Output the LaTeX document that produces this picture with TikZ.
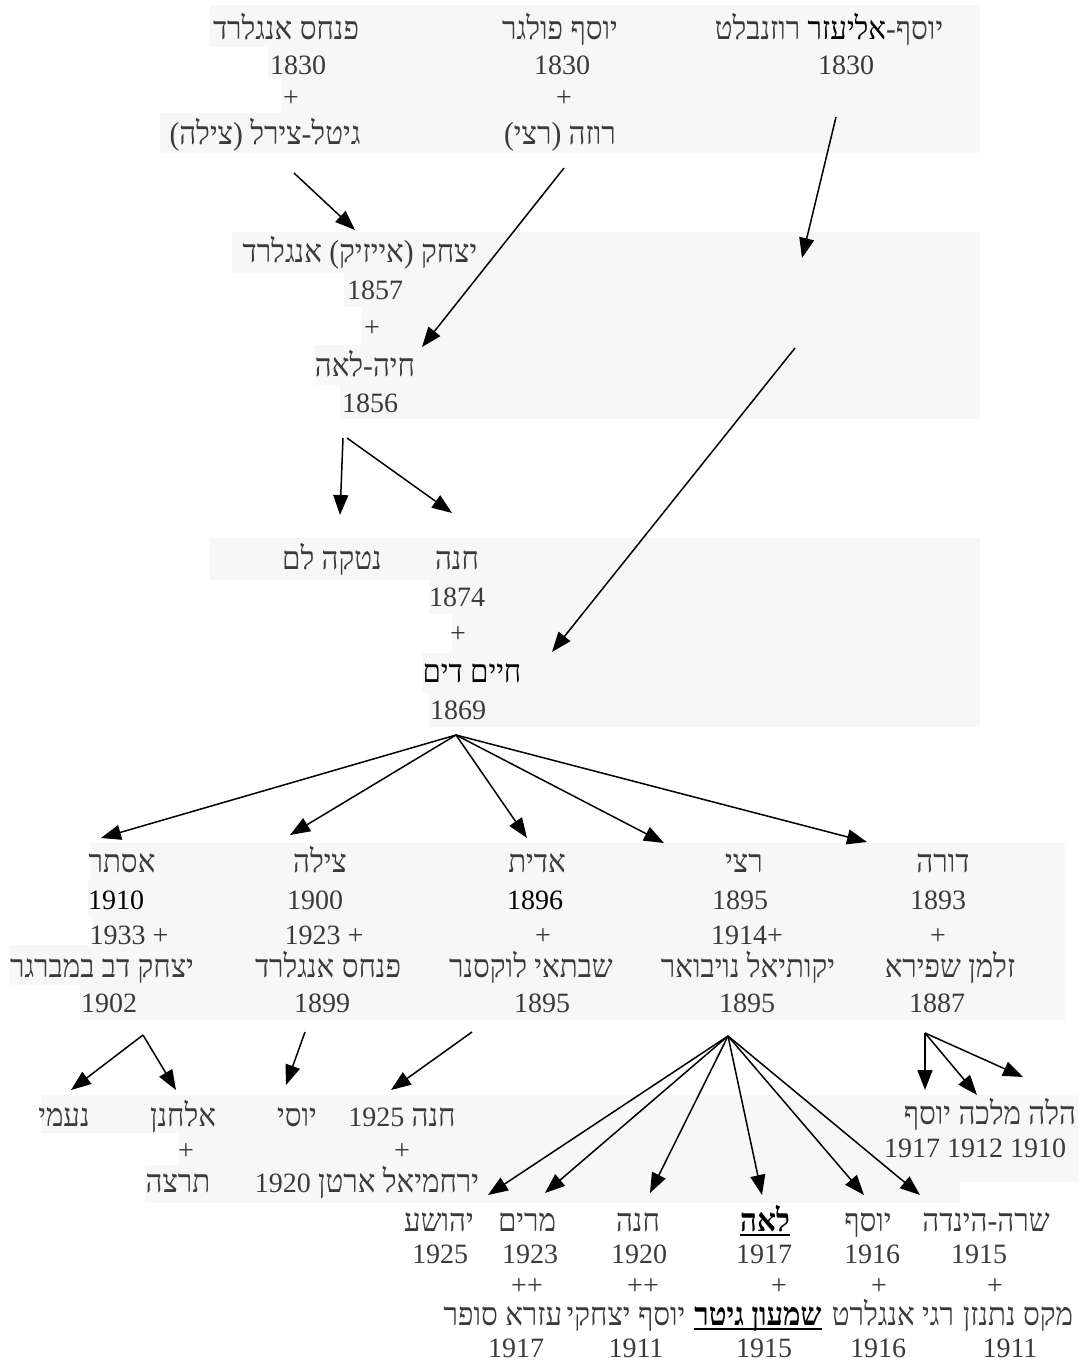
\documentclass[tikz,border=0pt]{standalone}
\usepackage{fontspec}
\setmainfont{Liberation Serif}
\newfontfamily\heb[Script=Hebrew,FakeStretch=0.92]{Liberation Serif}
\newfontfamily\lat{Liberation Serif}
\TeXXeTstate=1
\usetikzlibrary{arrows.meta}
\definecolor{txtgray}{RGB}{58,58,58}
\definecolor{bggray}{RGB}{247,247,247}
\newcommand{\hebsz}{\heb\fontsize{32}{38}\selectfont}
\newcommand{\heR}[1]{{\hebsz\beginR #1\endR}}
\newcommand{\yr}[1]{{\lat\fontsize{28}{34}\selectfont #1}}
\tikzset{
  lbl/.style={anchor=center, inner sep=0pt, text height=16pt, text depth=0pt, text=txtgray, font=\lat\fontsize{28}{34}\selectfont},
  dark/.style={text=black},
  boldlbl/.style={text=black, font=\lat\bfseries\fontsize{28}{34}\selectfont},
  arr/.style={draw=black, line width=1.5pt, -{Triangle[length=20pt,width=15pt]}},
  bgbox/.style={fill=bggray, draw=none},
  ul/.style={draw=black, line width=2pt}
}
\begin{document}
\begin{tikzpicture}[x=1pt,y=-1pt]
\useasboundingbox (0,0) rectangle (1080,1366);
\fill[white] (0,0) rectangle (1080,1366);
% background highlights
\fill[bgbox] (210,5) rectangle (980,47);
\fill[bgbox] (268,47) rectangle (980,79);
\fill[bgbox] (282,79) rectangle (980,113);
\fill[bgbox] (160,113) rectangle (980,153);
\fill[bgbox] (232,232) rectangle (980,273);
\fill[bgbox] (344,273) rectangle (980,307);
\fill[bgbox] (362,307) rectangle (980,345);
\fill[bgbox] (315,345) rectangle (980,385);
\fill[bgbox] (340,385) rectangle (980,419);
\fill[bgbox] (210,538) rectangle (980,580);
\fill[bgbox] (429,580) rectangle (980,614);
\fill[bgbox] (452,614) rectangle (980,653);
\fill[bgbox] (422,653) rectangle (980,693);
\fill[bgbox] (429,693) rectangle (980,727);
\fill[bgbox] (91,843) rectangle (1065,880);
\fill[bgbox] (88,880) rectangle (1065,915);
\fill[bgbox] (92,915) rectangle (1065,945);
\fill[bgbox] (10,945) rectangle (1065,985);
\fill[bgbox] (80,985) rectangle (1065,1020);
\fill[bgbox] (41,1095) rectangle (960,1133);
\fill[bgbox] (179,1133) rectangle (960,1165);
\fill[bgbox] (145,1165) rectangle (960,1203);
\fill[bgbox] (905,1095) rectangle (1078,1182);

% generation 1
\node[lbl] (a1) at (286,31) {\heR{פנחס אנגלרד}};
\node[lbl] (a2) at (298,66) {1830};
\node[lbl] (a3) at (291,98) {+};
\node[lbl] (a4) at (265,136) {\heR{גיטל-צירל (צילה)}};
\node[lbl] (b1) at (560,31) {\heR{יוסף פולגר}};
\node[lbl] (b2) at (562,66) {1830};
\node[lbl] (b3) at (564,98) {+};
\node[lbl] (b4) at (560,136) {\heR{רוזה (רצי)}};
\node[lbl] (c1) at (829,31) {{\hebsz\heR{רוזנבלט} {\color{black}אליעזר}-\kern0pt יוסף}};
\node[lbl] (c2) at (846,66) {1830};

% generation 2
\node[lbl] (d1) at (360,254) {\heR{יצחק (אייזיק) אנגלרד}};
\node[lbl] (d2) at (375,291) {1857};
\node[lbl] (d3) at (372,328) {+};
\node[lbl] (d4) at (365,368) {\heR{חיה-לאה}};
\node[lbl] (d5) at (370,404) {1856};

% generation 3
\node[lbl] (e0) at (332,561) {\heR{נטקה לם}};
\node[lbl] (e1) at (457,561) {\heR{חנה}};
\node[lbl] (e2) at (457,598) {1874};
\node[lbl] (e3) at (458,634) {+};
\node[lbl,dark] (e4) at (472,674) {\heR{חיים דים}};
\node[lbl] (e5) at (458,711) {1869};

% generation 4
\node[lbl] (f1) at (122,864) {\heR{אסתר}};
\node[lbl,dark] (f2) at (116,901) {1910};
\node[lbl] (f3) at (129,936) {1933 +};
\node[lbl] (f4) at (102,969) {\heR{יצחק דב במברגר}};
\node[lbl] (f5) at (109,1004) {1902};
\node[lbl] (g1) at (320,864) {\heR{צילה}};
\node[lbl] (g2) at (315,901) {1900};
\node[lbl] (g3) at (324,936) {1923 +};
\node[lbl] (g4) at (328,969) {\heR{פנחס אנגלרד}};
\node[lbl] (g5) at (322,1004) {1899};
\node[lbl] (h1) at (537,864) {\heR{אדית}};
\node[lbl,dark] (h2) at (535,901) {1896};
\node[lbl] (h3) at (543,936) {+};
\node[lbl] (h4) at (531,969) {\heR{שבתאי לוקסנר}};
\node[lbl] (h5) at (542,1004) {1895};
\node[lbl] (i1) at (744,864) {\heR{רצי}};
\node[lbl] (i2) at (740,901) {1895};
\node[lbl] (i3) at (747,936) {1914+};
\node[lbl] (i4) at (748,969) {\heR{יקותיאל נויבואר}};
\node[lbl] (i5) at (747,1004) {1895};
\node[lbl] (j1) at (943,864) {\heR{דורה}};
\node[lbl] (j2) at (938,901) {1893};
\node[lbl] (j3) at (938,936) {+};
\node[lbl] (j4) at (950,969) {\heR{זלמן שפירא}};
\node[lbl] (j5) at (937,1004) {1887};

% generation 5
\node[lbl] (k1) at (64,1118) {\heR{נעמי}};
\node[lbl] (k2) at (183,1118) {\heR{אלחנן}};
\node[lbl] (k3) at (186,1151) {+};
\node[lbl] (k4) at (178,1184) {\heR{תרצה}};
\node[lbl] (k5) at (297,1118) {\heR{יוסי}};
\node[lbl] (k6) at (402,1118) {\heR{חנה \yr{1925}}};
\node[lbl] (k7) at (402,1151) {+};
\node[lbl] (k8) at (367,1184) {\heR{ירחמיאל ארטן \yr{1920}}};
\node[lbl] (k9) at (990,1116) {\heR{הלה מלכה יוסף}};
\node[lbl] (k10) at (975,1149) {1917 1912 1910};

\node[lbl] (l1) at (439,1223) {\heR{יהושע}};
\node[lbl] (l2) at (527,1223) {\heR{מרים}};
\node[lbl] (l3) at (638,1223) {\heR{חנה}};
\node[lbl,boldlbl] (l4) at (765,1223) {\heR{לאה}};
\node[lbl] (l5) at (868,1223) {\heR{יוסף}};
\node[lbl] (l6) at (986,1223) {\heR{שרה-הינדה}};
\node[lbl] (m1) at (440,1255) {1925};
\node[lbl] (m2) at (530,1255) {1923};
\node[lbl] (m3) at (639,1255) {1920};
\node[lbl] (m4) at (764,1255) {1917};
\node[lbl] (m5) at (872,1255) {1916};
\node[lbl] (m6) at (979,1255) {1915};
\node[lbl] (p2) at (527,1286) {++};
\node[lbl] (p3) at (643,1286) {++};
\node[lbl] (p4) at (779,1286) {+};
\node[lbl] (p5) at (879,1286) {+};
\node[lbl] (p6) at (995,1286) {+};
\node[lbl] (s2) at (503,1317) {\heR{עזרא סופר}};
\node[lbl] (s3) at (626,1317) {\heR{יוסף יצחקי}};
\node[lbl,boldlbl] (s4) at (758,1317) {\heR{שמעון גיטר}};
\node[lbl] (s5) at (893,1317) {\heR{רגי אנגלרט}};
\node[lbl] (s6) at (1018,1317) {\heR{מקס נתנזן}};
\node[lbl] (y2) at (516,1349) {1917};
\node[lbl] (y3) at (636,1349) {1911};
\node[lbl] (y4) at (764,1349) {1915};
\node[lbl] (y5) at (878,1349) {1916};
\node[lbl] (y6) at (1010,1349) {1911};

\draw[ul] ([yshift=-4pt]l4.south west) -- ([yshift=-4pt]l4.south east);
\draw[ul] ([yshift=-4pt]s4.south west) -- ([yshift=-4pt]s4.south east);

% connector coordinates
\coordinate (qA) at (294,173);  \coordinate (tA) at (355,230);
\coordinate (qB) at (564,168);  \coordinate (tB) at (422,347);
\coordinate (qC) at (836,117);  \coordinate (tC) at (802,258);
\coordinate (qD) at (795,348);  \coordinate (tD) at (552,652);
\coordinate (qE1) at (343,438); \coordinate (tE1) at (340,515);
\coordinate (qE2) at (347,438); \coordinate (tE2) at (452,513);
\coordinate (qF) at (456,735);
\coordinate (tF1) at (101,838); \coordinate (tF2) at (290,835);
\coordinate (tF3) at (527,838); \coordinate (tF4) at (664,843);
\coordinate (tF5) at (867,842);
\coordinate (qG) at (143,1035);
\coordinate (tG1) at (71,1090); \coordinate (tG2) at (176,1090);
\coordinate (qH) at (305,1032); \coordinate (tH) at (286,1085);
\coordinate (qI) at (472,1032); \coordinate (tI) at (391,1090);
\coordinate (qJ) at (728,1036);
\coordinate (tJ1) at (488,1195); \coordinate (tJ2) at (545,1193);
\coordinate (tJ3) at (650,1193); \coordinate (tJ4) at (762,1195);
\coordinate (tJ5) at (864,1195); \coordinate (tJ6) at (920,1195);
\coordinate (qK) at (925,1033);
\coordinate (tK1) at (925,1090); \coordinate (tK2) at (977,1095);
\coordinate (tK3) at (1023,1077);

\draw[arr] (qA) -- (tA);
\draw[arr] (qB) -- (tB);
\draw[arr] (qC) -- (tC);
\draw[arr] (qD) -- (tD);
\draw[arr] (qE1) -- (tE1);
\draw[arr] (qE2) -- (tE2);
\foreach \t in {tF1,tF2,tF3,tF4,tF5} \draw[arr] (qF) -- (\t);
\draw[arr] (qG) -- (tG1);
\draw[arr] (qG) -- (tG2);
\draw[arr] (qH) -- (tH);
\draw[arr] (qI) -- (tI);
\foreach \t in {tJ1,tJ2,tJ3,tJ4,tJ5,tJ6} \draw[arr] (qJ) -- (\t);
\foreach \t in {tK1,tK2,tK3} \draw[arr] (qK) -- (\t);
\end{tikzpicture}
\end{document}
